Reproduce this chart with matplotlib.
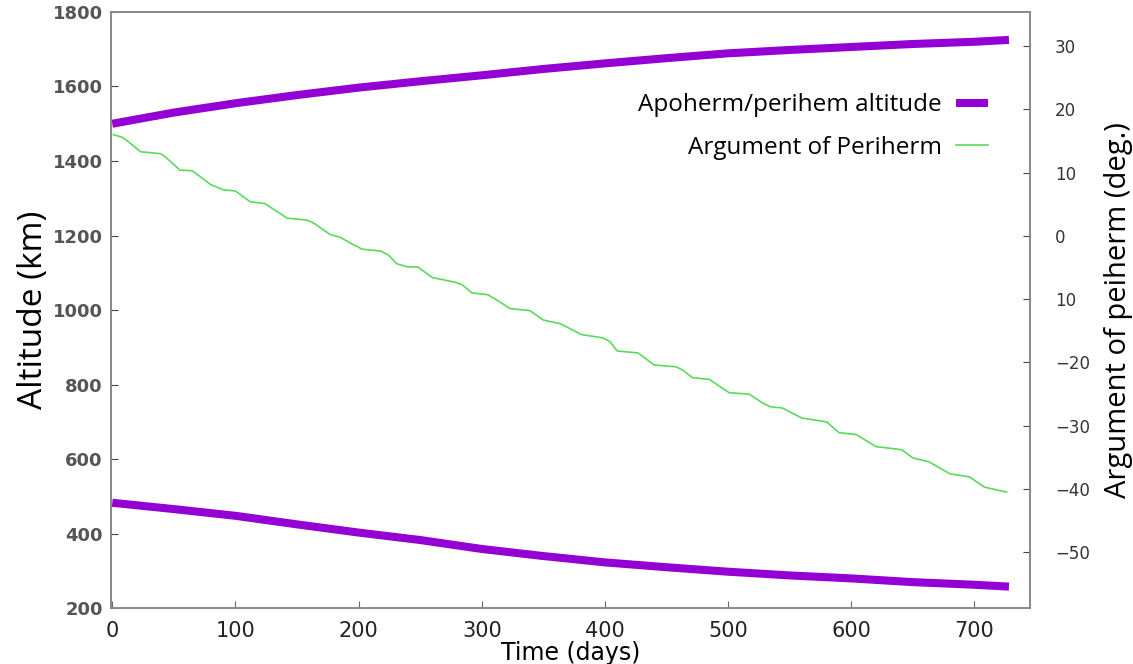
import matplotlib
matplotlib.use("Agg")
import matplotlib.pyplot as plt
from matplotlib import font_manager

# apoherm / perihem altitude (km)
alt_days = [0, 50, 100, 150, 200, 250, 300, 350, 400, 450, 500, 550, 600, 650, 700, 728]
apoherm = [1500, 1530, 1555, 1577, 1597, 1614, 1630, 1647, 1662, 1676, 1689, 1698, 1706, 1714, 1720, 1725]
perihem = [483, 466, 448, 425, 403, 383, 359, 340, 323, 310, 298, 288, 280, 270, 263, 258]

# argument of periherm (deg)
arg_days = [1, 8, 13, 23, 39, 43, 55, 65, 80, 90, 100, 112, 124, 142, 158, 163,
            177, 185, 193, 203, 218, 224, 231, 240, 248, 260, 278, 284, 292, 305,
            316, 323, 339, 350, 364, 381, 398, 404, 410, 427, 440, 458, 463, 471,
            485, 501, 517, 528, 534, 544, 560, 580, 590, 604, 620, 641, 650, 663,
            680, 696, 708, 726]
arg_peri = [16.0, 15.6, 14.9, 13.3, 13.0, 12.5, 10.4, 10.3, 8.1, 7.3, 7.1, 5.4, 5.1, 2.8, 2.5, 2.1,
            0.2, -0.2, -1.1, -2.1, -2.4, -3.0, -4.4, -4.9, -4.9, -6.6, -7.3, -7.7, -9.0, -9.3,
            -10.6, -11.5, -11.8, -13.3, -13.9, -15.6, -16.1, -16.7, -18.2, -18.5, -20.4, -20.7, -21.2, -22.4,
            -22.7, -24.8, -25.0, -26.4, -27.0, -27.2, -28.8, -29.4, -31.1, -31.4, -33.3, -33.8, -35.1, -35.7,
            -37.6, -38.1, -39.7, -40.5]

x_ticks = [0, 100, 200, 300, 400, 500, 600, 700]
left_ticks = [200, 400, 600, 800, 1000, 1200, 1400, 1600, 1800]
right_ticks = [30, 20, 10, 0, -10, -20, -30, -40, -50]
right_labels = ['30', '20', '10', '0', '10', '\u221220', '\u221230', '\u221240', '\u221250']

names = {f.name for f in font_manager.fontManager.ttflist}
narrow = 'DejaVu Sans'
for cand in ['DejaVu Sans Condensed', 'Liberation Sans Narrow']:
    if cand in names:
        narrow = cand
        break
label_font = 'Open Sans' if 'Open Sans' in names else 'DejaVu Sans'

purple = '#9400d3'
green = '#5ada5a'

fig = plt.figure(figsize=(11.33, 6.64), dpi=100)
ax = fig.add_subplot(111)
fig.subplots_adjust(left=0.098, right=0.909, top=0.982, bottom=0.084)
ax2 = ax.twinx()

ax.plot(alt_days, apoherm, color=purple, lw=5.8, solid_capstyle='butt',
        label='Apoherm/perihem altitude')
ax.plot(alt_days, perihem, color=purple, lw=5.8, solid_capstyle='butt')
ax2.plot(arg_days, arg_peri, color=green, lw=1.2, label='Argument of Periherm')

ax.set_xlim(-1, 745)
ax.set_ylim(200, 1800)
ax2.set_ylim(-58.85, 35.4)

ax.set_xticks(x_ticks)
ax.set_yticks(left_ticks)
ax2.set_yticks(right_ticks)
ax2.set_yticklabels(right_labels)

ax.tick_params(axis='x', direction='in', length=5, color='#666666', pad=9)
ax.tick_params(axis='y', direction='in', length=5, color='#444444', pad=6)
ax2.tick_params(axis='y', direction='in', length=5, color='#444444', pad=18)

for t in ax.get_xticklabels():
    t.set_fontfamily(narrow)
    t.set_fontsize(15)
    t.set_color('#222222')
for t in ax.get_yticklabels():
    t.set_fontfamily('DejaVu Sans')
    t.set_fontsize(13)
    t.set_fontweight('bold')
    t.set_color('#555555')
for t in ax2.get_yticklabels():
    t.set_fontfamily('DejaVu Sans')
    t.set_fontsize(12)
    t.set_color('#333333')

for a in (ax, ax2):
    for s in a.spines.values():
        s.set_color('#888888')
        s.set_linewidth(1.2)

ax.set_xlabel('Time (days)', fontfamily=narrow, fontsize=17, labelpad=0)
ax.set_ylabel('Altitude (km)', fontfamily=label_font, fontsize=24, labelpad=2)
ax2.set_ylabel('Argument of peiherm (deg.)', fontfamily=label_font, fontsize=21, labelpad=10)

h1, l1 = ax.get_legend_handles_labels()
h2, l2 = ax2.get_legend_handles_labels()
leg = ax2.legend(h1 + h2, l1 + l2, loc='upper right', bbox_to_anchor=(0.978, 0.9),
                 frameon=False, markerfirst=False, handlelength=1.3, handletextpad=0.6,
                 prop={'family': label_font, 'size': 17.5}, labelspacing=0.75)

fig.savefig('out.png', dpi=100)
